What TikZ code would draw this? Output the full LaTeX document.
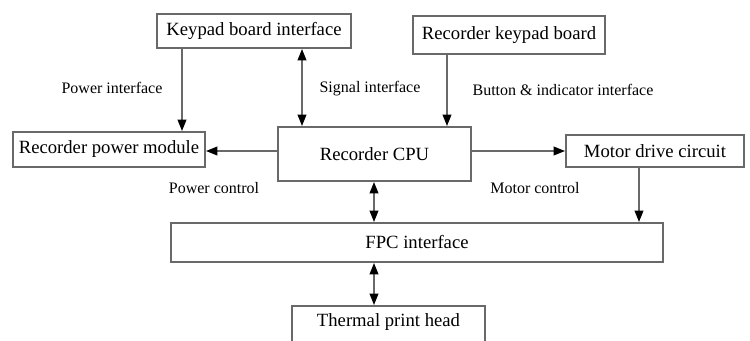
\documentclass[tikz,border=0pt]{standalone}
\usepackage{fontspec}
\setmainfont{Liberation Serif}
\usetikzlibrary{arrows.meta}
\definecolor{edgegray}{RGB}{105,105,105}
\tikzset{
  blk/.style={draw=edgegray, line width=1.5pt, fill=white, inner sep=0pt,
    font=\fontsize{14}{16}\selectfont, text=black},
  lbl/.style={font=\fontsize{12}{14}\selectfont, text=black, inner sep=0pt},
  tip/.style={Triangle[length=8.5pt, width=6.5pt, color=black]},
  link/.style={draw=edgegray, line width=1.25pt, -{Triangle[length=8.5pt, width=6.5pt, color=black]}},
  duplex/.style={draw=edgegray, line width=1.25pt,
    {Triangle[length=8.5pt, width=6.5pt, color=black]}-{Triangle[length=8.5pt, width=6.5pt, color=black]}}
}
\begin{document}
\begin{tikzpicture}[x=0.75pt, y=-0.75pt]
  \useasboundingbox (0,0) rectangle (750,340);
  \clip (0,0) rectangle (750,340);

  % blocks
  \node[blk, minimum width=194*0.75pt, minimum height=34*0.75pt] (kbi) at (254,31) {Keypad board interface};
  \node[blk, minimum width=192*0.75pt, minimum height=38*0.75pt] (rkb) at (509,35) {Recorder keypad board};
  \node[blk, minimum width=192*0.75pt, minimum height=35*0.75pt] (rpm) at (109,149.5) {Recorder power module};
  \node[blk, minimum width=193*0.75pt, minimum height=54*0.75pt] (cpu) at (374.5,154) {Recorder CPU};
  \node[blk, minimum width=178*0.75pt, minimum height=32*0.75pt] (mdc) at (655,151) {Motor drive circuit};
  \node[blk, minimum width=492*0.75pt, minimum height=39*0.75pt] (fpc) at (417,242.5) {FPC interface};
  \node[blk, minimum width=193*0.75pt, minimum height=50*0.75pt, anchor=north] (tph) at (388.5,305) {};
  \node[blk, draw=none, fill=none] (tphtext) at (388.5,322) {Thermal print head};

  % connector positions
  \coordinate (xpow) at (182,0);
  \coordinate (xsig) at (302,0);
  \coordinate (xbtn) at (447,0);
  \coordinate (xbus) at (374,0);
  \coordinate (xmot) at (639,0);
  \coordinate (yctl) at (0,151);

  % connectors
  \draw[link] (kbi.south -| xpow) -- (rpm.north -| xpow);
  \draw[duplex] (kbi.south -| xsig) -- (cpu.north -| xsig);
  \draw[link] (rkb.south -| xbtn) -- (cpu.north -| xbtn);
  \draw[link] (cpu.west |- yctl) -- (rpm.east |- yctl);
  \draw[link] (cpu.east |- yctl) -- (mdc.west |- yctl);
  \draw[duplex] (cpu.south -| xbus) -- (fpc.north -| xbus);
  \draw[link] (mdc.south -| xmot) -- (fpc.north -| xmot);
  \draw[duplex] (fpc.south -| xbus) -- (tph.north -| xbus);

  % labels
  \node[lbl] (lpow) at (112,88) {Power interface};
  \node[lbl] (lsig) at (370,89) {Signal interface};
  \node[lbl] (lbtn) at (563,90) {Button \& indicator interface};
  \node[lbl] (lpc) at (214,188) {Power control};
  \node[lbl] (lmc) at (535,188) {Motor control};
\end{tikzpicture}
\end{document}
